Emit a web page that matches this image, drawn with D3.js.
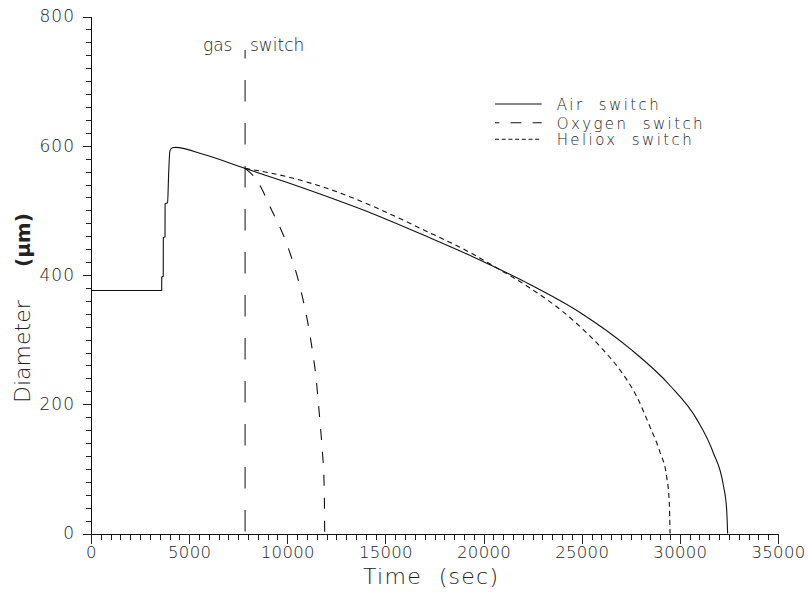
<!DOCTYPE html>
<html>
<head>
<meta charset="utf-8">
<script src="https://cdn.jsdelivr.net/npm/d3@7"></script>
<style>
  html, body { margin: 0; padding: 0; background: #fff; }
  svg { display: block; }
</style>
</head>
<body>
<svg id="chart" width="808" height="593"></svg>
<script>
// Bubble diameter (µm) vs time (s) for three breathing-gas switches
const airTime = [0, 3600, 3605, 3680, 3685, 3770, 3775, 3900, 3960, 4020, 4150, 4300, 5800, 7850,
  10000, 12685, 14382, 17000, 19477, 22000, 24912, 27459, 29497, 30858, 31703, 32213, 32383, 32434];
const airDiam = [376, 376, 397, 398, 458, 459, 510, 512, 560, 592, 597, 597.5, 586, 565,
  543, 514, 494.5, 461, 428, 391, 342, 286, 229, 177, 125, 75, 38, 0];

const oxygenTime = [7850, 8441, 9288, 9797, 10138, 10561, 10816, 11070, 11294, 11463, 11580,
  11700, 11802, 11870, 11895, 11905];
const oxygenDiam = [565, 547, 495, 462, 434, 392, 360, 322, 280, 242, 203, 161, 121, 83, 41, 0];

const helioxTime = [7850, 10000, 12685, 14382, 17000, 19477, 20836, 22000, 24744, 26099, 26950,
  27800, 28478, 28987, 29327, 29462, 29500];
const helioxDiam = [565, 552, 527, 506, 469, 432, 408, 387, 325, 284, 253, 212, 165, 126, 88, 47, 0];

const switchTime = 7850;

const seriesNames = ["Air switch", "Oxygen switch", "Heliox switch"];
const xMajorTicks = [0, 5000, 10000, 15000, 20000, 25000, 30000, 35000];
const yMajorTicks = [0, 200, 400, 600, 800];

const FONT = "DejaVu Sans, sans-serif";
const INK = "#222";

const svg = d3.select("#chart");

const x = d3.scaleLinear().domain([0, 35000]).range([91, 778]);
const y = d3.scaleLinear().domain([0, 800]).range([533.5, 16.5]);

// axes: minor ticks every 500 s / 20 µm, labelled majors
const xMinor = d3.range(0, 35001, 500).filter(v => v % 5000 !== 0);
const yMinor = d3.range(0, 801, 20).filter(v => v % 200 !== 0);

const axisStyle = g => {
  g.select(".domain").attr("stroke", "#111").attr("stroke-width", 1);
  g.selectAll(".tick line").attr("stroke", "#222").attr("stroke-width", 1);
  g.attr("shape-rendering", "crispEdges");
};
const labelStyle = (size, spacing) => g => g.selectAll("text")
  .attr("font-size", size).attr("fill", INK).attr("font-family", FONT)
  .attr("font-weight", 200).attr("letter-spacing", spacing);

svg.append("g")
  .attr("transform", `translate(0,${y(0)})`)
  .call(d3.axisBottom(x).tickValues(xMinor).tickSize(6).tickSizeOuter(0).tickFormat(""))
  .call(axisStyle);

svg.append("g")
  .attr("transform", `translate(0,${y(0)})`)
  .call(d3.axisBottom(x).tickValues(xMajorTicks).tickSize(10).tickSizeOuter(0).tickPadding(3)
    .tickFormat(d3.format("d")))
  .call(axisStyle)
  .call(labelStyle(16.5, 0.3));

svg.append("g")
  .attr("transform", `translate(${x(0)},0)`)
  .call(d3.axisLeft(y).tickValues(yMinor).tickSize(5).tickSizeOuter(0).tickFormat(""))
  .call(axisStyle);

svg.append("g")
  .attr("transform", `translate(${x(0)},0)`)
  .call(d3.axisLeft(y).tickValues(yMajorTicks).tickSize(8).tickSizeOuter(0).tickPadding(8)
    .tickFormat(d3.format("d")))
  .call(axisStyle)
  .call(labelStyle(17, 1));

// axis titles
svg.append("text")
  .attr("x", 363).attr("y", 583.5)
  .attr("font-family", FONT).attr("font-weight", 200).attr("fill", INK)
  .attr("font-size", 22).attr("letter-spacing", 1.3)
  .attr("xml:space", "preserve")
  .text("Time  (sec)");

const yTitle = svg.append("g").attr("transform", "translate(30,403) rotate(-90)");
yTitle.append("text").attr("x", 0).attr("y", 0)
  .attr("font-family", FONT).attr("font-weight", 200).attr("fill", INK)
  .attr("font-size", 22).text("Diameter");
yTitle.append("text").attr("x", 136).attr("y", 0)
  .attr("font-family", FONT).attr("fill", INK)
  .style("font-weight", "bold").attr("font-size", 20).text("(µm)");

// gas switch marker
svg.append("line")
  .attr("x1", x(switchTime)).attr("x2", x(switchTime))
  .attr("y1", 50).attr("y2", y(0))
  .attr("stroke", "#111").attr("stroke-width", 1)
  .attr("stroke-dasharray", "21.5,21.5").attr("stroke-dashoffset", 13);

svg.append("text").attr("x", 203).attr("y", 51)
  .attr("font-family", FONT).attr("font-weight", 200).attr("fill", INK)
  .attr("font-size", 17).text("gas");
svg.append("text").attr("x", 250).attr("y", 51)
  .attr("font-family", FONT).attr("font-weight", 200).attr("fill", INK)
  .attr("font-size", 17).text("switch");

// curves
const line = d3.line().x(d => x(d[0])).y(d => y(d[1])).curve(d3.curveMonotoneX);
const zip = (a, b) => a.map((v, i) => [v, b[i]]);

const series = [
  { name: seriesNames[0], data: zip(airTime, airDiam), dash: null, legendDash: null, offset: 0 },
  { name: seriesNames[1], data: zip(oxygenTime, oxygenDiam), dash: "11,12", legendDash: "10.7,11.3", offset: 6.4 },
  { name: seriesNames[2], data: zip(helioxTime, helioxDiam), dash: "5,4", legendDash: "4,2.7", offset: 0 }
];

svg.append("g").selectAll("path")
  .data(series)
  .join("path")
  .attr("d", d => line(d.data))
  .attr("fill", "none")
  .attr("stroke", "#111")
  .attr("stroke-width", 1.1)
  .attr("stroke-dasharray", d => d.dash);

// legend
const legend = svg.append("g");
const legendRows = [104, 122.7, 139.3];
series.forEach((s, i) => {
  legend.append("line")
    .attr("x1", 495).attr("x2", 541.7)
    .attr("y1", legendRows[i]).attr("y2", legendRows[i])
    .attr("stroke", "#111").attr("stroke-width", 1.1)
    .attr("stroke-dasharray", s.legendDash)
    .attr("stroke-dashoffset", s.offset);
  legend.append("text")
    .attr("x", 556.7).attr("y", legendRows[i] + 6)
    .attr("font-family", FONT).attr("font-weight", 200).attr("fill", INK)
    .attr("font-size", 15)
    .attr("letter-spacing", 2.4)
    .attr("xml:space", "preserve")
    .text(s.name.replace(" ", "  "));
});
</script>
</body>
</html>
